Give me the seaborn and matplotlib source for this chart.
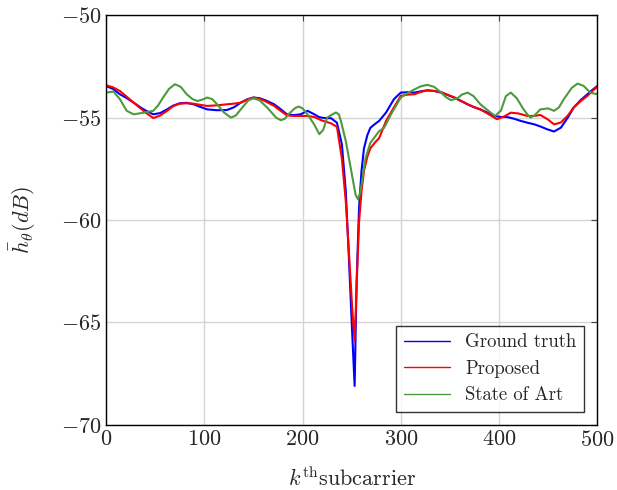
import numpy as np
import pandas as pd
import seaborn as sns
import matplotlib.pyplot as plt

# values
k_truth = [0, 7, 14, 21, 28, 35, 40, 48, 55, 62, 68, 75, 82, 89, 96, 103, 113, 123,
           130, 137, 144, 150, 156, 162, 171, 178, 184, 191, 198, 205, 212, 217,
           222, 229, 235, 240, 244, 247, 250.5, 253, 255, 257.5, 260, 262.5, 266,
           269, 274, 278, 285, 293, 300, 307, 314, 320, 327, 334, 341, 347, 354,
           361, 368, 374, 381, 388, 395, 402, 408, 415, 422, 429, 436, 443, 449,
           456, 463, 470, 476, 483, 490, 495, 500]
h_truth = [-53.46, -53.6, -53.86, -54.05, -54.27, -54.5, -54.65, -54.84, -54.78,
           -54.6, -54.42, -54.3, -54.28, -54.35, -54.48, -54.6, -54.64, -54.63,
           -54.5, -54.27, -54.1, -54.02, -54.05, -54.15, -54.35, -54.6, -54.84,
           -54.88, -54.84, -54.67, -54.84, -54.98, -55.02, -55.03, -55.25, -56.3,
           -58.6, -61.7, -65.5, -68.1, -63.0, -59.4, -57.6, -56.5, -55.85, -55.5,
           -55.3, -55.16, -54.75, -54.1, -53.78, -53.76, -53.78, -53.72, -53.67,
           -53.7, -53.78, -53.88, -54.02, -54.18, -54.35, -54.48, -54.6, -54.75,
           -54.92, -54.97, -54.97, -55.05, -55.16, -55.25, -55.33, -55.45, -55.57,
           -55.68, -55.49, -55.0, -54.51, -54.15, -53.86, -53.65, -53.46]

k_prop = [0, 7, 14, 21, 28, 35, 40, 48, 55, 62, 68, 75, 82, 89, 96, 103, 113, 123,
          130, 137, 144, 150, 156, 162, 171, 178, 184, 191, 198, 205, 212, 219,
          229, 235, 240, 244, 247, 250.5, 253, 255, 257.5, 260, 262.5, 266, 269,
          274, 278, 285, 293, 300, 307, 314, 320, 327, 334, 341, 347, 354, 361,
          368, 374, 381, 390, 398, 405, 412, 420, 429, 436, 442, 450, 456, 463,
          470, 476, 483, 490, 495, 500]
h_prop = [-53.42, -53.52, -53.7, -53.98, -54.27, -54.55, -54.75, -55.02, -54.9,
          -54.67, -54.45, -54.32, -54.3, -54.32, -54.38, -54.43, -54.4, -54.35,
          -54.32, -54.27, -54.12, -54.02, -54.08, -54.2, -54.43, -54.68, -54.89,
          -54.92, -54.92, -54.92, -54.97, -55.13, -55.28, -55.45, -57.0, -59.1,
          -61.4, -64.3, -65.9, -63.3, -60.1, -58.6, -57.6, -56.9, -56.5, -56.2,
          -56.0, -55.16, -54.5, -53.94, -53.88, -53.86, -53.75, -53.67, -53.7,
          -53.75, -53.88, -54.0, -54.18, -54.35, -54.48, -54.6, -54.85, -55.08,
          -54.95, -54.76, -54.8, -54.92, -54.92, -54.87, -55.1, -55.33, -55.24,
          -54.9, -54.51, -54.2, -53.94, -53.7, -53.5]

k_soa = [0, 7.5, 14, 21, 28, 38, 48, 53, 58, 64, 70, 76, 82, 88, 93, 98, 103, 108,
         113, 120, 127, 132, 137, 145, 150, 156, 164, 173, 178, 182, 186, 192, 196,
         200, 205, 212, 217, 221, 225, 230, 234, 237, 239, 244, 249, 254, 256.5,
         259, 264, 269, 278, 283, 290, 300, 307, 314, 320, 327, 334, 341, 346, 351,
         358, 362, 368, 374, 381, 390, 396, 402, 407, 412, 418, 425, 429, 432, 436,
         442, 450, 456, 461, 466, 474, 480, 486, 493, 500]
h_soa = [-53.78, -53.73, -54.1, -54.67, -54.84, -54.76, -54.67, -54.4, -54.02,
         -53.6, -53.37, -53.5, -53.86, -54.1, -54.19, -54.12, -54.02, -54.1, -54.35,
         -54.75, -55.0, -54.9, -54.6, -54.15, -54.06, -54.15, -54.51, -55.0,
         -55.13, -55.05, -54.82, -54.55, -54.46, -54.55, -54.84, -55.35, -55.81,
         -55.6, -55.0, -54.85, -54.75, -54.85, -55.16, -56.15, -57.46, -58.77,
         -59.0, -58.6, -57.0, -56.23, -55.66, -55.5, -54.84, -54.02, -53.8, -53.62,
         -53.48, -53.4, -53.5, -53.78, -54.0, -54.15, -54.05, -53.88, -53.78,
         -53.95, -54.35, -54.7, -54.92, -54.65, -53.95, -53.78, -54.05, -54.6,
         -54.85, -55.0, -54.9, -54.6, -54.55, -54.67, -54.5, -54.1, -53.55, -53.34,
         -53.45, -53.78, -53.86]

labels = ['Ground truth', 'Proposed', 'State of Art']
colors = ['#0000ff', '#ff0000', '#4c9a3c']

df = pd.concat([
    pd.DataFrame({'k': k_truth, 'h': h_truth, 'method': labels[0]}),
    pd.DataFrame({'k': k_prop, 'h': h_prop, 'method': labels[1]}),
    pd.DataFrame({'k': k_soa, 'h': h_soa, 'method': labels[2]}),
])

sns.set_style('white')
plt.rcParams['font.family'] = 'serif'
plt.rcParams['font.serif'] = ['cmr10']
plt.rcParams['mathtext.fontset'] = 'cm'
plt.rcParams['axes.formatter.use_mathtext'] = True

fig, ax = plt.subplots(figsize=(6.17, 4.9), dpi=100)
fig.subplots_adjust(left=0.172, right=0.968, top=0.969, bottom=0.133)

sns.lineplot(data=df, x='k', y='h', hue='method', hue_order=labels,
             palette=colors, estimator=None, sort=True, linewidth=1.5, ax=ax)

ax.set_xlim(0, 500)
ax.set_ylim(-70, -50)
ax.set_xticks([0, 100, 200, 300, 400, 500])
ax.set_yticks([-70, -65, -60, -55, -50])
ax.grid(True, color='#d4d4d4', linewidth=1)
ax.set_axisbelow(True)
for s in ax.spines.values():
    s.set_color('black')
    s.set_linewidth(1)
ax.tick_params(direction='in', length=4, width=0.8, color='#444444',
               top=True, right=True, labelsize=16)

ax.set_xlabel(r'$k^{\mathrm{th}}$subcarrier', fontsize=16, labelpad=12)
ax.set_ylabel(r'$\bar{h}_\theta(dB)$', fontsize=16, labelpad=16)

leg = ax.legend(loc='lower right', fontsize=13.5, frameon=True, fancybox=False,
                edgecolor='black', borderaxespad=0.7, handlelength=2.5,
                labelspacing=0.45)
leg.get_frame().set_linewidth(1)
for line in leg.get_lines():
    line.set_linewidth(1)

plt.savefig('out.png', dpi=100)
